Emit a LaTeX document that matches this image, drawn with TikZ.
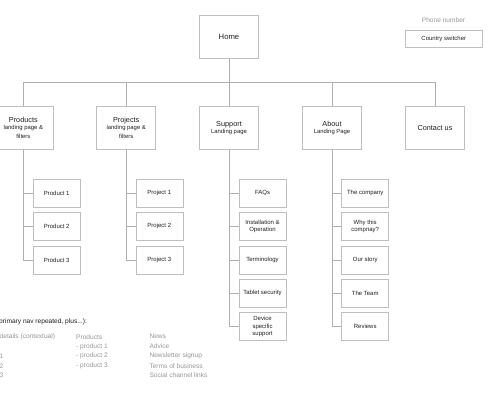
\documentclass[tikz,border=0pt]{standalone}
\usepackage{fontspec}
\setmainfont{Liberation Sans}
\definecolor{linegray}{RGB}{175,175,175}
\definecolor{boxgray}{RGB}{190,190,190}
\definecolor{txtgray}{RGB}{150,150,150}
\definecolor{txtdark}{RGB}{30,30,30}
\newcommand\mysubfont{\fontsize{5.9}{6.8}\selectfont}
\tikzset{
  topbox/.style={draw=boxgray, line width=0.6pt, minimum width=59pt, minimum height=42.5pt, align=center, inner sep=1pt, text=txtdark, font=\fontsize{7.3}{8.4}\selectfont},
  childbox/.style={draw=boxgray, line width=0.6pt, minimum width=47pt, minimum height=28pt, align=center, inner sep=1pt, text=txtdark, font=\fontsize{6}{7.6}\selectfont},
  conn/.style={draw=linegray, line width=0.6pt},
  foot/.style={anchor=west, inner sep=0pt, text=txtgray, font=\fontsize{6.6}{7.5}\selectfont},
}
\begin{document}
\begin{tikzpicture}[x=1pt,y=-1pt]
\useasboundingbox (0,0) rectangle (495,400);
% Home
\node[topbox, minimum height=42.8pt, font=\fontsize{7.7}{9}\selectfont] (home) at (229,36.9) {Home};
% top-right
\node[anchor=center, inner sep=0pt, text=txtgray, font=\fontsize{6.6}{7}\selectfont] (phone) at (443.5,20) {Phone number};
\node[draw=boxgray, line width=0.6pt, minimum width=77pt, minimum height=16.6pt, inner sep=0pt, text=txtdark, font=\fontsize{6}{7}\selectfont] (country) at (443.8,39) {Country switcher};
% level 1
\node[topbox] (prod) at (23.3,127.8) {Products\\[-1pt]\mysubfont landing page \&\\\mysubfont filters};
\node[topbox] (proj) at (126.2,127.8) {Projects\\[-1pt]\mysubfont landing page \&\\\mysubfont filters};
\node[topbox] (supp) at (229,127.8) {Support\\[-1pt]\mysubfont Landing page};
\node[topbox] (about) at (332,127.8) {About\\[-1pt]\mysubfont Landing Page};
\node[topbox] (contact) at (435,127.8) {Contact us};
\coordinate (bus) at (229,82.7);
\draw[conn] (home.south) -- (home.south |- bus);
\foreach \n in {prod,proj,supp,about,contact}{
  \draw[conn] (home.south |- bus) -| (\n.north);
}
% children
\node[childbox] (p1) at (56.7,193.2) {Product 1};
\node[childbox] (p2) at (56.7,226.3) {Product 2};
\node[childbox] (p3) at (56.7,260) {Product 3};
\node[childbox] (j1) at (159.3,193.2) {Project 1};
\node[childbox] (j2) at (159.3,226.3) {Project 2};
\node[childbox] (j3) at (159.3,260) {Project 3};
\node[childbox] (s1) at (262.5,193.2) {FAQs};
\node[childbox] (s2) at (262.5,226.3) {Installation \&\\Operation};
\node[childbox] (s3) at (262.5,260) {Terminology};
\node[childbox] (s4) at (262.5,293.3) {Tablet security};
\node[childbox] (s5) at (262.5,326.7) {Device\\specific\\support};
\node[childbox] (a1) at (365.2,193.2) {The company};
\node[childbox] (a2) at (365.2,226.3) {Why this\\compnay?};
\node[childbox] (a3) at (365.2,260) {Our story};
\node[childbox] (a4) at (365.2,293.3) {The Team};
\node[childbox] (a5) at (365.2,326.7) {Reviews};
\foreach \c in {p1,p2,p3}{\draw[conn] (prod.south) |- (\c.west);}
\foreach \c in {j1,j2,j3}{\draw[conn] (proj.south) |- (\c.west);}
\foreach \c in {s1,s2,s3,s4,s5}{\draw[conn] (supp.south) |- (\c.west);}
\foreach \c in {a1,a2,a3,a4,a5}{\draw[conn] (about.south) |- (\c.west);}
% footer
\node[foot, text=txtdark] (fhead) at (-1,321.7) {primary nav repeated, plus...):};
\node[foot] (c1a) at (-0.5,336.7) {details (contextual)};
\node[foot] (c1b) at (-0.5,356) {1};
\node[foot] (c1c) at (-0.5,365.7) {2};
\node[foot] (c1d) at (-0.5,375.3) {3};
\node[foot] (c2a) at (76,336.7) {Products};
\node[foot] (c2b) at (76,346.3) {- product 1};
\node[foot] (c2c) at (76,356) {- product 2};
\node[foot] (c2d) at (76,365.7) {- product 3};
\node[foot] (c3a) at (149.3,336.7) {News};
\node[foot] (c3b) at (149.3,346.3) {Advice};
\node[foot] (c3c) at (149.3,356) {Newsletter signup};
\node[foot] (c3d) at (149.3,365.7) {Terms of business};
\node[foot] (c3e) at (149.3,375.3) {Social channel links};
\end{tikzpicture}
\end{document}
